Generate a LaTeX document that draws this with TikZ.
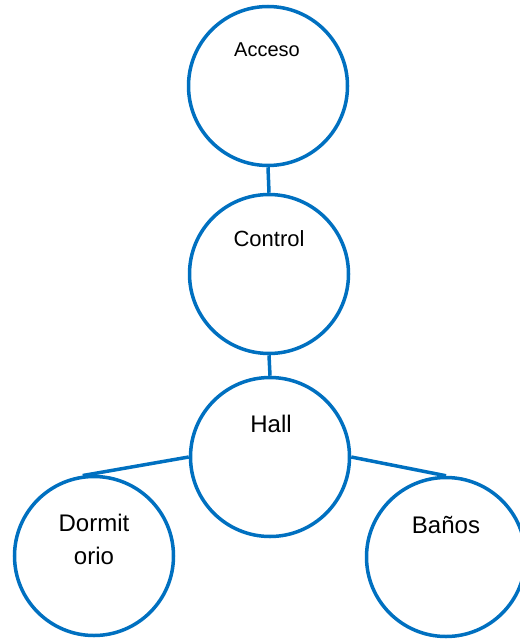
\documentclass[tikz,border=0pt]{standalone}
\usepackage{fontspec}
\setmainfont{Liberation Sans}
\usetikzlibrary{positioning}
\definecolor{roomblue}{HTML}{0070C0}
\begin{document}
\begin{tikzpicture}[x=1pt,y=-1pt,
  room/.style={draw=roomblue,line width=3.5pt,circle,minimum size=159pt,inner sep=0pt},
  link/.style={draw=roomblue,line width=3.5pt},
  roomname/.style={anchor=base,inner sep=0pt,align=center}]
\useasboundingbox (0,0) rectangle (519,639);
% rooms
\node[room] (acceso) at (268,86) {};
\node[room] (control) at (269,274) {};
\node[room] (hall) at (270,457) {};
\node[room] (dormitorio) at (94,556) {};
\node[room] (banos) at (446,557) {};
% names
\node[roomname,font=\fontsize{20}{24}\selectfont] (accesoname) at ([xshift=-1pt,yshift=29pt]acceso.center) {Acceso};
\node[roomname,font=\fontsize{22}{26}\selectfont] (controlname) at ([yshift=28pt]control.center) {Control};
\node[roomname,font=\fontsize{24}{33}\selectfont] (hallname) at ([xshift=1pt,yshift=25pt]hall.center) {Hall};
\node[roomname,font=\fontsize{24}{33}\selectfont] (dormitorioname) at ([yshift=-8pt]dormitorio.center) {Dormit\\orio};
\node[roomname,font=\fontsize{24}{33}\selectfont] (banosname) at ([yshift=24pt]banos.center) {Baños};
% links
\draw[link] (acceso.south) -- (control.north);
\draw[link] (control.south) -- (hall.north);
\draw[link] (hall.west) -- (dormitorio.98);
\draw[link] (hall.east) -- (banos.north);
\end{tikzpicture}
\end{document}
